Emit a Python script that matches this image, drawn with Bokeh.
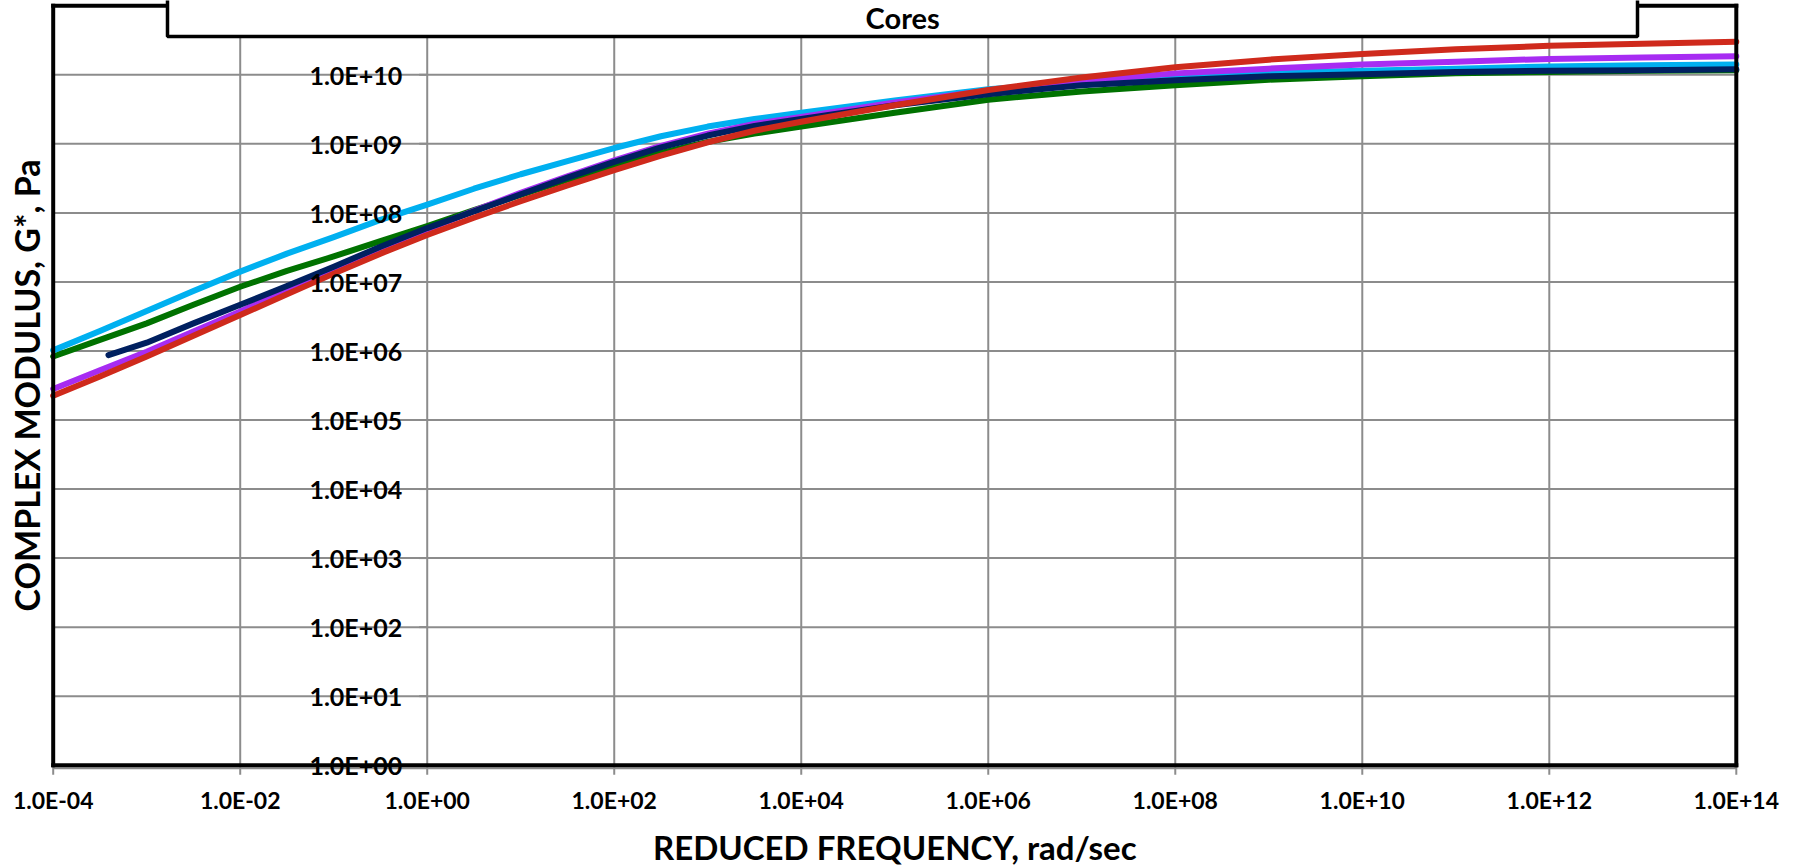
import math
from bokeh.plotting import figure
from bokeh.models import Range1d, BoxAnnotation, Label, LabelSet, ColumnDataSource
from bokeh.core.properties import value
from bokeh.embed import file_html
from bokeh.resources import INLINE

# ---------------- data ----------------
freq = [1e-4, 3.16e-4, 1e-3, 3.16e-3, 1e-2, 3.16e-2, 1e-1, 3.16e-1, 1e0, 3.16e0, 1e1, 3.16e1,
        1e2, 3.16e2, 1e3, 3.16e3, 1e4, 1e5, 1e6, 1e7, 1e8, 1e9, 1e10, 1e11, 1e12, 1e13, 1e14]
navy_freq = [3.9e-4, 1e-3, 3.16e-3, 1e-2, 3.16e-2, 1e-1, 3.16e-1, 1e0, 3.16e0, 1e1, 3.16e1,
             1e2, 3.16e2, 1e3, 3.16e3, 1e4, 1e5, 1e6, 1e7, 1e8, 1e9, 1e10, 1e11, 1e12, 1e13, 1e14]

g_lightblue = [1.02e6, 1.95e6, 3.80e6, 7.41e6, 1.41e7, 2.57e7, 4.47e7, 7.94e7, 1.32e8, 2.24e8,
               3.63e8, 5.62e8, 8.71e8, 1.29e9, 1.78e9, 2.29e9, 2.82e9, 4.27e9, 6.17e9, 7.94e9,
               9.55e9, 1.07e10, 1.15e10, 1.23e10, 1.32e10, 1.38e10, 1.41e10]
g_green = [8.32e5, 1.45e6, 2.51e6, 4.68e6, 8.51e6, 1.45e7, 2.34e7, 3.89e7, 6.46e7, 1.10e8,
           1.82e8, 3.02e8, 4.79e8, 7.41e8, 1.07e9, 1.41e9, 1.78e9, 2.82e9, 4.37e9, 5.75e9,
           7.08e9, 8.51e9, 9.55e9, 1.05e10, 1.10e10, 1.15e10, 1.17e10]
g_navy = [8.71e5, 1.32e6, 2.51e6, 4.68e6, 8.71e6, 1.66e7, 3.24e7, 6.03e7, 1.05e8, 1.86e8,
          3.24e8, 5.50e8, 8.91e8, 1.32e9, 1.82e9, 2.29e9, 3.63e9, 5.25e9, 7.08e9, 8.32e9,
          9.55e9, 1.02e10, 1.10e10, 1.15e10, 1.17e10, 1.20e10]
g_purple = [2.82e5, 5.25e5, 9.77e5, 1.91e6, 3.72e6, 7.59e6, 1.51e7, 3.02e7, 5.75e7, 1.07e8,
            1.95e8, 3.39e8, 5.75e8, 9.33e8, 1.41e9, 1.95e9, 2.45e9, 3.98e9, 5.89e9, 8.13e9,
            1.05e10, 1.23e10, 1.41e10, 1.55e10, 1.70e10, 1.78e10, 1.86e10]
g_red = [2.24e5, 4.27e5, 8.32e5, 1.66e6, 3.31e6, 6.61e6, 1.32e7, 2.57e7, 4.79e7, 8.51e7,
         1.48e8, 2.51e8, 4.17e8, 6.76e8, 1.05e9, 1.55e9, 2.09e9, 3.63e9, 6.03e9, 9.12e9,
         1.29e10, 1.66e10, 2.0e10, 2.34e10, 2.63e10, 2.82e10, 3.02e10]

x_ticks = [1e-4, 1e-2, 1e0, 1e2, 1e4, 1e6, 1e8, 1e10, 1e12, 1e14]
x_tick_labels = ["1.0E-04", "1.0E-02", "1.0E+00", "1.0E+02", "1.0E+04", "1.0E+06",
                 "1.0E+08", "1.0E+10", "1.0E+12", "1.0E+14"]
y_ticks = [1e0, 1e1, 1e2, 1e3, 1e4, 1e5, 1e6, 1e7, 1e8, 1e9, 1e10]
y_tick_labels = ["1.0E+00", "1.0E+01", "1.0E+02", "1.0E+03", "1.0E+04", "1.0E+05",
                 "1.0E+06", "1.0E+07", "1.0E+08", "1.0E+09", "1.0E+10"]

X_MIN, X_MAX = 1e-4, 1e14      # plot-area bounds
Y_MIN, Y_MAX = 1e0, 1e11
Y_AXIS_AT = 1e0                # value axis crosses the frequency axis at 1 rad/s

title_text = "Cores"
x_title = "REDUCED FREQUENCY, rad/sec"
y_title = "COMPLEX MODULUS, G*, Pa"

FONT = "Lato"
GRID = "#8c8c8c"

# ---------------- layout helpers (screen pixels per decade) ----------------
W, H = 1800, 867
DX = 93.506
DY = 69.036
def dx(v, px):
    return v * 10 ** (px / DX)
def dy(v, px):
    return v * 10 ** (px / DY)

p = figure(width=W, height=H, x_axis_type="log", y_axis_type="log",
           x_range=Range1d(dx(X_MIN, -52.7), dx(X_MAX, W - 1735.8)),
           y_range=Range1d(dy(Y_MIN, -(H - 764.7)), dy(Y_MAX, 5.3)),
           output_backend="svg", toolbar_location=None,
           x_axis_location=None, y_axis_location=None,
           min_border=0, min_border_left=0, min_border_right=0,
           min_border_top=0, min_border_bottom=0)
p.background_fill_color = "white"
p.border_fill_color = "white"
p.outline_line_color = None
p.xgrid.visible = False
p.ygrid.visible = False

# grid lines (vertical ones run past the axis as tick marks)
p.segment(x0=x_ticks, x1=x_ticks, y0=[dy(Y_MIN, -9.5)] * len(x_ticks), y1=[Y_MAX] * len(x_ticks),
          line_color=GRID, line_width=2)
p.segment(x0=[X_MIN] * len(y_ticks), x1=[X_MAX] * len(y_ticks), y0=y_ticks, y1=y_ticks,
          line_color=GRID, line_width=2)
# value-axis tick marks at x = 1
p.segment(x0=[dx(Y_AXIS_AT, -8)] * len(y_ticks), x1=[Y_AXIS_AT] * len(y_ticks), y0=y_ticks, y1=y_ticks,
          line_color=GRID, line_width=2)
# gray category-axis line just under the black frame
p.segment(x0=[X_MIN], x1=[X_MAX], y0=[dy(Y_MIN, -3)], y1=[dy(Y_MIN, -3)],
          line_color=GRID, line_width=2)

# curves
series = [
    (freq, g_green, "#007200"),
    (freq, g_lightblue, "#00b0f0"),
    (freq, g_purple, "#a72cf2"),
    (navy_freq, g_navy, "#002060"),
    (freq, g_red, "#cf2a1c"),
]
for xs_, ys_, col in series:
    p.line(xs_, ys_, line_color=col, line_width=6, line_join="round", line_cap="round")

# black frame of the plot area
p.segment(x0=[X_MIN, X_MAX, X_MIN, X_MIN], x1=[X_MIN, X_MAX, X_MAX, X_MAX],
          y0=[Y_MIN, Y_MIN, Y_MIN, Y_MAX], y1=[Y_MAX, Y_MAX, Y_MIN, Y_MAX],
          line_color="black", line_width=4, line_cap="square")

# value-axis labels inside the plot, left of x = 1
ylab_src = ColumnDataSource(dict(x=[dx(Y_AXIS_AT, -25)] * len(y_ticks), y=y_ticks, t=y_tick_labels))
p.add_layout(LabelSet(x="x", y="y", text="t", source=ylab_src,
                      text_align="right", text_baseline="middle",
                      text_font=value(FONT), text_font_style="bold",
                      text_font_size="25px", text_color="black"))

# frequency-axis labels
xlab_src = ColumnDataSource(dict(x=x_ticks, y=[dy(Y_MIN, -35)] * len(x_ticks), t=x_tick_labels))
p.add_layout(LabelSet(x="x", y="y", text="t", source=xlab_src,
                      text_align="center", text_baseline="middle",
                      text_font=value(FONT), text_font_style="bold",
                      text_font_size="23px", text_color="black"))

# axis titles
p.add_layout(Label(x=math.sqrt(X_MIN * X_MAX), y=dy(Y_MIN, -82), text=x_title,
                   text_align="center", text_baseline="middle", text_font=FONT,
                   text_font_style="bold", text_font_size="33px", text_color="black"))
p.add_layout(Label(x=dx(X_MIN, -27), y=math.sqrt(Y_MIN * Y_MAX), text=y_title, angle=math.pi / 2,
                   text_align="center", text_baseline="middle", text_font=FONT,
                   text_font_style="bold", text_font_size="34px", text_color="black"))

# title box overlapping the top of the plot area
p.add_layout(BoxAnnotation(left=dx(X_MIN, 114.3), right=dx(X_MAX, -98.8),
                           bottom=dy(Y_MAX, -30.7), top=dy(Y_MAX, 40),
                           fill_color="white", fill_alpha=1.0,
                           line_color="black", line_alpha=1.0, line_width=3.5, level="overlay"))
p.add_layout(Label(x=dx(X_MIN, 849.5), y=dy(Y_MAX, -11.5), text=title_text, text_align="center",
                   text_baseline="middle", text_font=FONT, text_font_style="bold",
                   text_font_size="29px", text_color="black", level="overlay"))

open("out.html", "w").write(file_html(p, INLINE))
